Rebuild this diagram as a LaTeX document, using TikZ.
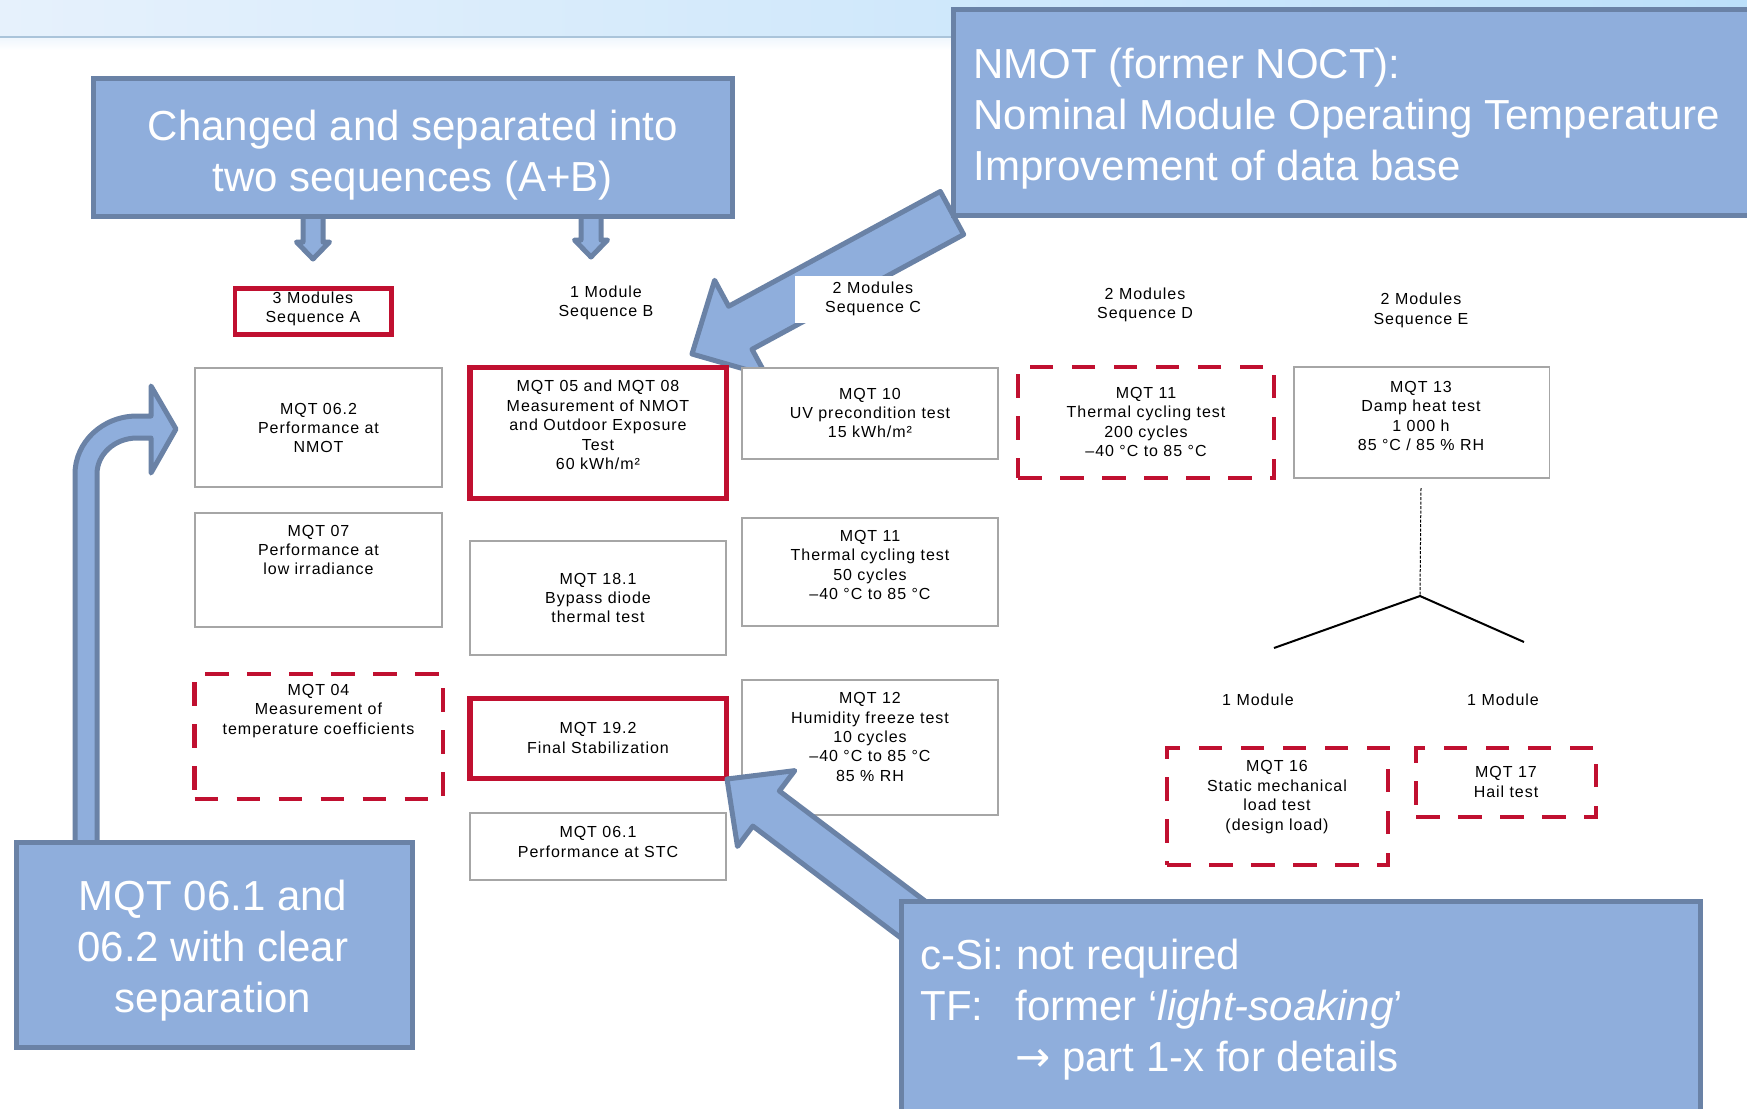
\documentclass[tikz,border=0pt]{standalone}
\usepackage{fontspec}
\setmainfont{Liberation Sans}
\newfontfamily\cellfont[LetterSpace=6]{Liberation Sans}
\newfontfamily\arrowfont{DejaVu Sans}
\usetikzlibrary{calc}
\frenchspacing

\definecolor{qred}{RGB}{192,16,48}
\definecolor{cfill}{RGB}{143,174,220}
\definecolor{cedge}{RGB}{106,130,166}
\definecolor{cellgray}{RGB}{166,166,166}
\definecolor{bandL}{RGB}{230,241,252}
\definecolor{bandR}{RGB}{188,224,250}
\definecolor{bandline}{RGB}{170,196,218}

% block arrow: start, tip, half shaft width, half head width, head length
\newcommand{\blockarrow}[5]{%
  \coordinate (ba-h) at ($(#2)!#5!(#1)$);
  \filldraw[callarrow] ($(#1)!#3!90:(#2)$) -- ($(ba-h)!#3!-90:(#1)$) -- ($(ba-h)!#4!-90:(#1)$) -- (#2)
    -- ($(ba-h)!#4!90:(#1)$) -- ($(ba-h)!#3!90:(#1)$) -- ($(#1)!#3!-90:(#2)$) -- cycle;}

\begin{document}
\begin{tikzpicture}[x=0.5pt,y=-0.5pt]
	\tikzstyle{cell} = [draw=cellgray, line width=0.75pt, fill=white, inner sep=0pt]
	\tikzstyle{redcell} = [draw=qred, line width=2.6pt, fill=white, inner sep=0pt]
	\tikzstyle{dashcell} = [draw=qred, line width=2.25pt, dash pattern=on 11.75pt off 9.25pt, fill=white, inner sep=0pt]
	\tikzstyle{celltext} = [font=\cellfont\fontsize{8pt}{9.7pt}\selectfont, align=center, inner sep=0pt]
	\tikzstyle{callout} = [draw=cedge, line width=2.5pt, fill=cfill, inner sep=0pt]
	\tikzstyle{callarrow} = [draw=cedge, line width=2.5pt, fill=cfill, line join=round]
	\tikzstyle{bigtext} = [font=\fontsize{21pt}{25.5pt}\selectfont, text=white, inner sep=0pt]

	\useasboundingbox (0,0) rectangle (1747,1109);
	\clip (0,0) rectangle (1747,1109);

	% title band
	\shade[left color=bandL, right color=bandR] (0,0) rectangle (1747,37);
	\shade[top color=bandL!60!white, bottom color=white] (0,38) rectangle (1747,50);
	\draw[bandline, line width=1pt] (0,37) -- (1747,37);

	% arrows lying under the boxes
	\coordinate (aA0) at (313,205); \coordinate (aA1) at (313,259);
	\coordinate (aB0) at (591,205); \coordinate (aB1) at (591,257);
	\blockarrow{aA0}{aA1}{5pt}{8.25pt}{8.5pt}
	\blockarrow{aB0}{aB1}{5pt}{8.25pt}{8.5pt}
	\coordinate (nm0) at (952,213); \coordinate (nm1) at (692,354);
	\blockarrow{nm0}{nm1}{12.25pt}{27pt}{27.5pt}
	\filldraw[callarrow] (75,860) -- (75,474) arc[start angle=180, end angle=270, x radius=62, y radius=58]
		-- (151,416) -- (151,386) -- (176,429) -- (151,473) -- (151,438) -- (137,438)
		arc[start angle=270, end angle=180, x radius=40, y radius=36] -- (97,860) -- cycle;

	% sequence headers
	\node[draw=qred, line width=2.25pt, minimum width=78.25pt, minimum height=23pt] (boxA) at (313.25,311.5) {};
	\node[celltext] (seqA) at (313,309) {3 Modules\\Sequence A};
	\node[celltext] (seqB) at (606,303) {1 Module\\Sequence B};
	\fill[white] (795,276) rectangle (925,323);
	\node[celltext] (seqC) at (873,299) {2 Modules\\Sequence C};
	\node[celltext] (seqD) at (1145,305) {2 Modules\\Sequence D};
	\node[celltext] (seqE) at (1421,310.5) {2 Modules\\Sequence E};

	% sequence A
	\node[cell, minimum width=123.5pt, minimum height=59.5pt] (m062) at (318.5,427.5) {};
	\node[celltext] (m062t) at (318.5,428) {MQT 06.2\\Performance at\\NMOT};
	\node[cell, minimum width=123.5pt, minimum height=57pt] (m07) at (318.5,570) {};
	\node[celltext] (m07t) at (318.5,550) {MQT 07\\Performance at\\low irradiance};
	\node[dashcell, minimum width=124.25pt, minimum height=62.5pt] (m04) at (318.75,736.5) {};
	\node[celltext] (m04t) at (318.5,711) {MQT 04\\Measurement of\\temperature coefficients};

	% sequence B
	\node[redcell, minimum width=128.25pt, minimum height=65.5pt] (m0508) at (598.25,433) {};
	\node[celltext] (m0508t) at (598,425) {MQT 05 and MQT 08\\Measurement of NMOT\\and Outdoor Exposure\\Test\\60 kWh/m²};
	\node[cell, minimum width=128pt, minimum height=57pt] (m181) at (598,598) {};
	\node[celltext] (m181t) at (598,598) {MQT 18.1\\Bypass diode\\thermal test};
	\node[redcell, minimum width=128.25pt, minimum height=40pt] (m192) at (598.25,738.5) {};
	\node[celltext] (m192t) at (598,738) {MQT 19.2\\Final Stabilization};
	\node[cell, minimum width=128pt, minimum height=33.5pt] (m061) at (598,846.5) {};
	\node[celltext] (m061t) at (598,842) {MQT 06.1\\Performance at STC};

	% sequence C
	\node[cell, minimum width=128pt, minimum height=45.5pt] (m10) at (870,413.5) {};
	\node[celltext] (m10t) at (870,413) {MQT 10\\UV precondition test\\15 kWh/m²};
	\node[cell, minimum width=128pt, minimum height=54pt] (m11a) at (870,572) {};
	\node[celltext] (m11at) at (870,565) {MQT 11\\Thermal cycling test\\50 cycles\\–40 °C to 85 °C};
	\node[cell, minimum width=128pt, minimum height=67.5pt] (m12) at (870,747.5) {};
	\node[celltext] (m12t) at (870,737) {MQT 12\\Humidity freeze test\\10 cycles\\–40 °C to 85 °C\\85 \% RH};

	% sequence D
	\node[dashcell, minimum width=128pt, minimum height=55.5pt] (m11b) at (1146,422.5) {};
	\node[celltext] (m11bt) at (1146,422) {MQT 11\\Thermal cycling test\\200 cycles\\–40 °C to 85 °C};

	% sequence E
	\node[cell, minimum width=127.75pt, minimum height=55.5pt] (m13) at (1421.75,422.5) {};
	\node[celltext] (m13t) at (1421,416) {MQT 13\\Damp heat test\\1 000 h\\85 °C / 85 \% RH};
	\coordinate (treetop) at (1421,488);
	\coordinate (fork) at (1420,596);
	\coordinate (leftend) at (1274,648);
	\coordinate (rightend) at (1524,642);
	\draw[line width=0.5pt, dash pattern=on 1.5pt off 0.75pt] (treetop) -- (fork);
	\draw[line width=1pt] (leftend) -- (fork) -- (rightend);
	\node[celltext] (oneL) at (1258,700) {1 Module};
	\node[celltext] (oneR) at (1503,700) {1 Module};
	\node[dashcell, minimum width=110.5pt, minimum height=58.5pt] (m16) at (1277.5,806.5) {};
	\node[celltext] (m16t) at (1277,797) {MQT 16\\Static mechanical\\load test\\(design load)};
	\node[dashcell, minimum width=90pt, minimum height=34.5pt] (m17) at (1506,782.5) {};
	\node[celltext] (m17t) at (1506,782) {MQT 17\\Hail test};

	% arrow over the table
	\coordinate (cs0) at (960,955); \coordinate (cs1) at (727,779);
	\blockarrow{cs0}{cs1}{11pt}{23.75pt}{24.5pt}

	% callouts
	\node[callout, minimum width=319.75pt, minimum height=69pt] (chg) at (412.75,147.5) {};
	\node[bigtext, align=center] (chgt) at (412.75,155) {Changed and separated into\\two sequences (A+B)};
	\node[callout, minimum width=408.25pt, minimum height=103.25pt] (nmot) at (1361.75,112.25) {};
	\node[bigtext, anchor=west, align=left] (nmott) at (973,118.5)
		{NMOT (former NOCT):\\Nominal Module Operating Temperature\\Improvement of data base};
	\node[callout, minimum width=198pt, minimum height=102.25pt] (sep) at (214,944.75) {};
	\node[bigtext, align=center] (sept) at (213,951) {MQT 06.1 and\\06.2 with clear\\separation};
	\node[callout, minimum width=399.25pt, minimum height=114.25pt] (csi) at (1300.75,1015.75) {};
	\node[bigtext, anchor=west, align=left] (csit) at (920,1010)
		{c-Si: not required\\\makebox[47.5pt][l]{TF:}former ‘\textit{light-soaking}’\\\hspace*{47.5pt}{\arrowfont →} part 1-x for details};
\end{tikzpicture}
\end{document}
